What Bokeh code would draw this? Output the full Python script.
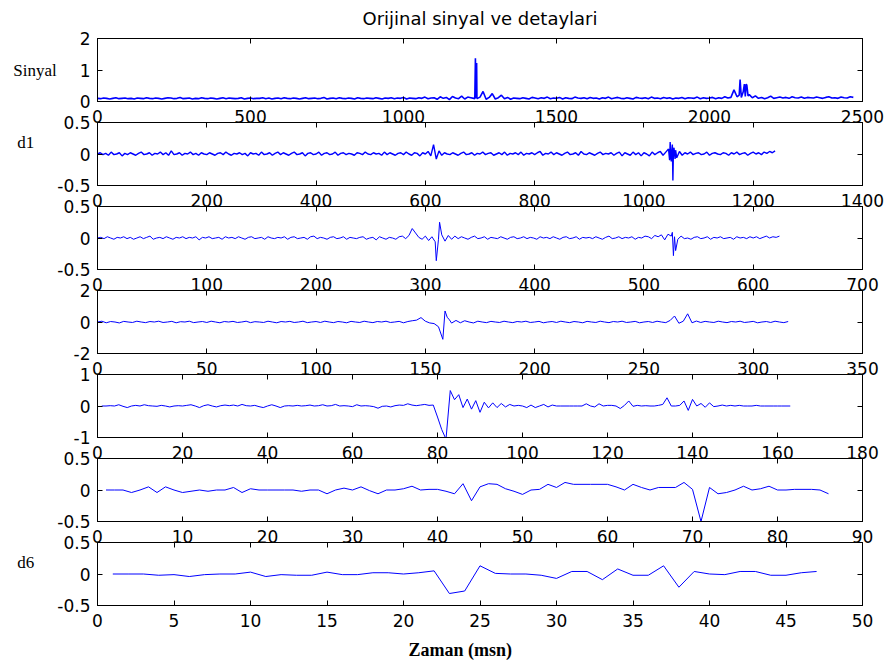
from bokeh.embed import file_html
from bokeh.layouts import column
from bokeh.models import CustomJSTickFormatter, FixedTicker, LinearAxis, Range1d, Title
from bokeh.plotting import figure
from bokeh.resources import INLINE

# ---------------------------------------------------------------- data
# Original signal, sampled every 10 points, plus the sharp spikes in between
sig_step = 10
sig_vals = [
    0.10, 0.09, 0.11, 0.10, 0.08, 0.10, 0.12, 0.09, 0.10, 0.11,
    0.09, 0.10, 0.08, 0.11, 0.10, 0.09, 0.12, 0.10, 0.09, 0.11,
    0.10, 0.08, 0.10, 0.12, 0.11, 0.09, 0.10, 0.13, 0.09, 0.10,
    0.11, 0.08, 0.10, 0.09, 0.12, 0.10, 0.09, 0.11, 0.10, 0.08,
    0.10, 0.12, 0.09, 0.11, 0.10, 0.09, 0.10, 0.12, 0.08, 0.10,
    0.11, 0.09, 0.10, 0.10, 0.12, 0.09, 0.11, 0.08, 0.10, 0.11,
    0.09, 0.12, 0.10, 0.09, 0.11, 0.10, 0.08, 0.10, 0.12, 0.09,
    0.10, 0.11, 0.09, 0.10, 0.13, 0.08, 0.10, 0.11, 0.09, 0.12,
    0.10, 0.09, 0.11, 0.10, 0.08, 0.12, 0.10, 0.09, 0.11, 0.10,
    0.09, 0.12, 0.10, 0.08, 0.11, 0.10, 0.12, 0.09, 0.11, 0.10,
    0.13, 0.08, 0.11, 0.10, 0.09, 0.12, 0.10, 0.14, 0.09, 0.11,
    0.12, 0.07, 0.15, 0.10, 0.13, 0.06, 0.16, 0.11, 0.09, 0.17,
    0.08, 0.14, 0.12, 0.10,
    0.10, 0.14, 0.32, 0.07, 0.13, 0.25,
    0.08, 0.12, 0.20, 0.09, 0.13, 0.07, 0.11, 0.10, 0.09, 0.12,
    0.10, 0.08, 0.13, 0.11, 0.09, 0.12, 0.10, 0.14, 0.09, 0.11,
    0.10, 0.13, 0.08, 0.12, 0.10, 0.09, 0.14, 0.11, 0.10, 0.12,
    0.09, 0.13, 0.10, 0.11, 0.08, 0.12, 0.10, 0.14, 0.09, 0.11,
    0.13, 0.10, 0.09, 0.12, 0.10, 0.08, 0.13, 0.11, 0.10, 0.12,
    0.09, 0.14, 0.10, 0.11, 0.09, 0.13, 0.10, 0.12, 0.08, 0.11,
    0.10, 0.13, 0.09, 0.12, 0.11, 0.10, 0.14, 0.09, 0.12, 0.10,
    0.11, 0.13, 0.09, 0.12, 0.10, 0.15, 0.11, 0.13,
    0.37, 0.15, 0.70, 0.30, 0.55, 0.22,
    0.12, 0.18, 0.10, 0.13, 0.09, 0.12, 0.17, 0.10, 0.12, 0.14,
    0.11, 0.13, 0.10, 0.15, 0.12, 0.11, 0.14, 0.10, 0.13, 0.12,
    0.11, 0.14, 0.12, 0.10, 0.13, 0.15, 0.11, 0.12, 0.10, 0.14,
    0.12, 0.11, 0.15, 0.13,
]
sig_spike_x = [1233, 1235, 1237, 1239, 1242, 2097, 2104, 2114, 2117, 2122, 2126]
sig_spike_y = [0.09, 1.37, 0.10, 1.22, 0.10, 0.20, 0.13, 0.55, 0.16, 0.52, 0.18]

# d1, every 5th coefficient plus the burst around 1050
d1_step = 5
d1_vals = [
    0.00, 0.02, -0.01, 0.01, -0.02, 0.03, -0.01, 0.00, 0.02, -0.03,
    0.01, -0.01, 0.02, 0.00, -0.02, 0.01, 0.03, -0.01, 0.00, 0.02,
    -0.02, 0.01, 0.00, 0.03, -0.01, 0.02, -0.02, 0.05, -0.01, 0.00,
    0.02, -0.02, 0.01, 0.00, 0.03, -0.01, 0.01, -0.02, 0.02, 0.00,
    -0.01, 0.02, 0.00, -0.02, 0.01, 0.02, -0.01, 0.03, 0.00, -0.02,
    0.01, 0.00, 0.02, -0.01, 0.01, -0.03, 0.02, 0.00, 0.01, -0.02,
    0.03, -0.01, 0.00, 0.02, -0.02, 0.01, 0.03, -0.01, 0.02, 0.00,
    -0.02, 0.01, 0.03, -0.01, 0.00, 0.02, -0.03, 0.01, 0.02, -0.01,
    0.00, 0.03, -0.02, 0.01, 0.02, -0.01, 0.00, 0.03, -0.02, 0.01,
    0.02, -0.01, 0.01, 0.00, -0.02, 0.02, 0.01, -0.01, 0.03, 0.00,
    -0.01, 0.02, 0.00, 0.01, -0.02, 0.03, -0.01, 0.02, 0.00, -0.02,
    0.01, 0.02, -0.01, 0.03, 0.00, -0.02, 0.02, 0.01, -0.03, 0.02,
    0.00, 0.04, -0.03, 0.15, -0.08, 0.05, -0.02, 0.02, 0.00, -0.01,
    0.02, 0.00, -0.02, 0.01, 0.03, -0.01, 0.00, 0.02, -0.02, 0.01,
    0.00, 0.03, -0.01, 0.01, 0.02, -0.02, 0.00, 0.02, -0.01, 0.03,
    -0.02, 0.01, 0.00, 0.02, -0.01, 0.03, -0.02, 0.01, 0.00, 0.02,
    -0.01, 0.02, 0.04, -0.02, 0.01, 0.00, 0.03, -0.01, 0.02, 0.00,
    -0.02, 0.01, 0.03, -0.01, 0.00, 0.02, -0.02, 0.04, 0.00, -0.01,
    0.02, 0.00, -0.02, 0.01, 0.03, -0.01, 0.01, 0.00, 0.02, -0.02,
    0.01, 0.03, -0.03, 0.02, 0.00, -0.02, 0.03, -0.01, 0.02, -0.03,
    0.02, 0.00, -0.03, 0.03, -0.01, 0.02, 0.04, -0.02, 0.03, 0.08,
    -0.12, 0.10, -0.06, 0.04, -0.02, 0.02, 0.00, 0.03, -0.01, 0.01,
    0.02, -0.01, 0.00, 0.03, -0.02, 0.01, 0.02, 0.00, -0.01, 0.02,
    0.01, -0.02, 0.02, 0.00, 0.03, -0.01, 0.01, 0.02, -0.02, 0.01,
    0.03, 0.00, 0.02, -0.01, 0.03, 0.01, 0.04, 0.02, 0.05,
]
d1_burst_x = [1047, 1048, 1052, 1053, 1054, 1057, 1058]
d1_burst_y = [-0.10, 0.19, 0.15, -0.42, 0.05, -0.08, 0.06]

# d2, every 3rd coefficient plus the spikes near 310 and 527
d2_step = 3
d2_vals = [
    0.00, 0.01, -0.01, 0.02, 0.00, -0.02, 0.01, 0.00, 0.02, -0.01,
    0.01, -0.02, 0.00, 0.02, -0.01, 0.01, 0.03, -0.02, 0.00, 0.01,
    -0.01, 0.02, 0.00, -0.02, 0.01, 0.00, 0.02, -0.01, 0.01, 0.00,
    0.02, -0.03, 0.01, 0.00, 0.02, -0.01, 0.00, 0.01, -0.02, 0.02,
    0.00, 0.01, -0.01, 0.02, 0.00, -0.02, 0.01, 0.02, -0.01, 0.00,
    0.01, -0.02, 0.02, 0.00, -0.01, 0.01, 0.00, 0.02, -0.02, 0.01,
    0.02, -0.01, 0.00, 0.01, -0.02, 0.02, 0.03, -0.01, 0.01, 0.00,
    -0.02, 0.01, 0.02, -0.01, 0.00, 0.02, -0.02, 0.01, 0.00, -0.01,
    0.01, 0.02, -0.02, 0.00, 0.01, -0.03, 0.02, 0.00, -0.02, 0.01,
    0.00, -0.02, 0.02, 0.03, -0.01, 0.04, 0.15, 0.08, 0.01, -0.02,
    0.03, -0.04, 0.02, -0.06, -0.02, 0.05, -0.05, 0.04, -0.02, 0.03,
    -0.01, 0.02, 0.00, -0.02, 0.01, 0.03, -0.01, 0.00, 0.02, -0.02,
    0.01, 0.00, -0.01, 0.02, 0.00, -0.02, 0.01, 0.02, -0.01, 0.00,
    0.02, -0.01, 0.01, 0.00, -0.02, 0.02, 0.00, 0.01, -0.01, 0.02,
    0.00, -0.02, 0.01, 0.02, -0.01, 0.00, 0.02, -0.02, 0.01, 0.00,
    0.01, -0.01, 0.02, 0.00, -0.02, 0.01, 0.03, -0.01, 0.00, 0.02,
    -0.01, 0.01, 0.00, 0.02, -0.02, 0.01, 0.00, 0.03, 0.02, -0.01,
    0.04, 0.02, 0.05, -0.03, 0.06, 0.03, 0.02, -0.02, 0.03, -0.01,
    0.00, -0.02, 0.01, 0.02, -0.01, 0.00, 0.02, -0.02, 0.01, 0.00,
    0.02, -0.01, 0.00, 0.01, -0.02, 0.02, 0.00, 0.01, -0.01, 0.02,
    0.00, 0.02, -0.01, 0.01, 0.03, 0.00, 0.02, 0.01, 0.03,
]
d2_spike_x = [310, 313, 526, 527, 529]
d2_spike_y = [-0.36, 0.25, 0.09, -0.28, -0.20]

# d3, every 2nd coefficient plus the peak at 159
d3_step = 2
d3_vals = [
    0.00, 0.05, -0.05, 0.03, 0.00, -0.06, 0.04, 0.00, -0.03, 0.05,
    0.00, -0.04, 0.03, 0.00, 0.05, -0.03, 0.00, 0.04, -0.05, 0.02,
    0.00, 0.05, -0.04, 0.00, 0.03, -0.03, 0.05, 0.00, -0.05, 0.03,
    0.00, 0.04, -0.03, 0.00, 0.05, -0.04, 0.02, 0.00, -0.03, 0.05,
    0.00, -0.05, 0.03, 0.00, 0.04, -0.03, 0.00, 0.05, -0.04, 0.00,
    0.03, -0.03, 0.05, 0.00, -0.04, 0.03, 0.00, -0.05, 0.04, 0.00,
    -0.03, 0.05, 0.00, -0.04, 0.03, 0.00, 0.05, -0.03, 0.00, 0.04,
    -0.05, 0.03, 0.08, 0.12, 0.28, 0.05, -0.06, -0.10, -0.30, -1.10,
    0.30, -0.07, 0.10, -0.05, 0.08, 0.00, -0.06, 0.05, 0.00, -0.04,
    0.04, 0.00, -0.03, 0.05, 0.00, -0.04, 0.03, 0.00, 0.05, -0.03,
    0.00, 0.04, -0.05, 0.00, 0.03, -0.03, 0.05, 0.00, -0.04, 0.03,
    0.00, -0.05, 0.04, 0.00, -0.03, 0.05, 0.00, -0.04, 0.03, 0.00,
    0.05, -0.03, 0.00, 0.04, -0.05, 0.00, 0.03, -0.03, 0.05, 0.00,
    -0.04, 0.10, 0.38, -0.08, 0.05, 0.52, -0.05, 0.06, -0.03, 0.04,
    0.00, -0.03, 0.05, 0.00, -0.04, 0.03, 0.00, 0.05, -0.03, 0.00,
    0.04, -0.05, 0.00, 0.03, -0.03, 0.05, 0.00, -0.04, 0.03,
]
d3_peak_x = [159, 161]
d3_peak_y = [0.70, 0.14]

# d4 .. d6, one value per coefficient (index starts at 1)
d4_vals = [
    0.00, 0.00, 0.01, 0.00, 0.04, -0.01, -0.05, 0.00, 0.02, 0.00,
    0.04, 0.01, 0.00, -0.01, 0.02, 0.00, -0.03, 0.00, 0.01, 0.00,
    0.02, 0.04, 0.00, -0.05, 0.01, 0.04, 0.00, -0.03, 0.01, 0.03,
    0.01, 0.03, 0.00, 0.05, 0.01, 0.00, 0.02, -0.02, -0.05, 0.00,
    0.04, 0.00, -0.05, 0.00, 0.01, 0.00, 0.02, 0.00, 0.01, 0.03,
    0.00, 0.01, 0.04, 0.00, 0.01, 0.05, 0.00, 0.01, 0.00, -0.02,
    0.04, 0.00, 0.01, 0.00, -0.02, -0.07, -0.01, 0.00, -0.03, 0.01,
    0.03, 0.02, 0.07, 0.03, 0.01, 0.03, 0.05, 0.02, 0.03, -0.35,
    -0.75, -1.05, 0.49, 0.20, 0.36, -0.05, 0.22, -0.10, 0.17, -0.20,
    0.12, -0.06, 0.10, -0.05, 0.08, -0.03, 0.05, 0.00, 0.02, 0.00,
    -0.05, 0.03, -0.05, 0.00, 0.05, -0.03, 0.03, 0.00, 0.00, 0.00,
    0.00, 0.00, 0.00, 0.00, 0.07, 0.00, -0.03, 0.07, 0.00, 0.02,
    0.02, 0.00, -0.08, 0.02, 0.16, -0.01, 0.02, 0.00, 0.01, 0.00,
    0.00, 0.02, 0.05, 0.26, 0.00, 0.00, 0.02, 0.16, -0.14, 0.21,
    0.00, 0.08, -0.04, 0.10, -0.02, 0.00, 0.03, 0.00, 0.02, 0.00,
    0.02, 0.00, 0.00, 0.00, 0.02, 0.00, 0.00, 0.00, 0.00, 0.00,
    0.00, 0.00, 0.00,
]
d5_vals = [
    0.00, 0.00, 0.00, -0.04, 0.00, 0.05, -0.04, 0.05, 0.00, -0.04,
    -0.02, 0.00, -0.02, 0.00, 0.00, 0.04, -0.04, 0.02, 0.00, 0.00,
    0.00, 0.00, 0.00, -0.02, 0.00, 0.00, -0.06, 0.00, 0.03, 0.00,
    0.05, -0.01, -0.06, 0.00, 0.00, 0.02, 0.06, 0.00, 0.01, 0.01,
    -0.02, -0.06, 0.10, -0.17, 0.05, 0.10, 0.09, 0.02, -0.02, -0.07,
    0.00, 0.01, 0.09, 0.04, 0.12, 0.09, 0.09, 0.09, 0.09, 0.09,
    0.05, 0.00, 0.09, 0.04, 0.00, 0.04, 0.04, 0.04, 0.12, 0.01,
    -0.50, 0.04, -0.06, -0.04, 0.00, 0.06, 0.00, 0.02, 0.06, 0.00,
    0.00, 0.01, 0.01, 0.01, 0.00, -0.06,
]
d6_vals = [
    0.00, 0.00, 0.00, -0.02, -0.01, -0.04, -0.01, 0.00, 0.00, 0.03,
    -0.04, -0.01, -0.02, -0.02, 0.03, -0.01, -0.01, 0.02, 0.02, 0.00,
    0.02, 0.05, -0.31, -0.27, 0.13, 0.01, 0.00, 0.00, -0.02, -0.07,
    0.04, 0.04, -0.09, 0.08, -0.02, -0.02, 0.13, -0.21, 0.04, 0.00,
    -0.01, 0.04, 0.04, -0.02, -0.02, 0.02, 0.04,
]

# axis limits and ticks of the seven panels
sig_xticks = [0, 500, 1000, 1500, 2000, 2500]
d1_xticks = [0, 200, 400, 600, 800, 1000, 1200, 1400]
d2_xticks = [0, 100, 200, 300, 400, 500, 600, 700]
d3_xticks = [0, 50, 100, 150, 200, 250, 300, 350]
d4_xticks = [0, 20, 40, 60, 80, 100, 120, 140, 160, 180]
d5_xticks = [0, 10, 20, 30, 40, 50, 60, 70, 80, 90]
d6_xticks = [0, 5, 10, 15, 20, 25, 30, 35, 40, 45, 50]
sig_yticks = [0, 1, 2]
half_yticks = [-0.5, 0, 0.5]
d3_yticks = [-2, 0, 2]
d4_yticks = [-1, 0, 1]

title_text = "Orijinal sinyal ve detaylari"
xlabel_text = "Zaman (msn)"

# ---------------------------------------------------------------- helpers
BLUE = "#0000ff"
SANS = "DejaVu Sans"
SERIF = "Liberation Serif"
FRAME_H = 63
GAP = 21          # free space between two stacked frames
PAD_TOP = 12      # room for the top y tick label
PAD_BOTTOM = 30   # room for the x tick labels
TITLE_PAD = 42    # room for the title above the first frame
TITLE_LIFT = 4    # the first canvas starts this far above the page top


def stepped(step, vals, extra_x=(), extra_y=(), start=0):
    xs = [start + i * step for i in range(len(vals))] + list(extra_x)
    ys = list(vals) + list(extra_y)
    order = sorted(range(len(xs)), key=lambda k: xs[k])
    return [xs[k] for k in order], [ys[k] for k in order]


def make_panel(xs, ys, x_end, y_lim, x_ticks, y_ticks, top=PAD_TOP, bottom=PAD_BOTTOM,
               lw=1.0, ylabel=None):
    p = figure(width=887, height=top + FRAME_H + bottom,
               x_range=Range1d(0, x_end), y_range=Range1d(*y_lim),
               x_axis_location=None, y_axis_location=None,
               output_backend="svg", toolbar_location=None,
               min_border_left=97, min_border_right=25,
               min_border_top=top, min_border_bottom=bottom)
    p.grid.visible = False
    p.background_fill_color = None
    p.border_fill_color = None
    p.outline_line_color = "black"
    p.outline_line_width = 1

    for loc, ticks, labelled in (("below", x_ticks, True), ("above", x_ticks, False),
                                 ("left", y_ticks, True), ("right", y_ticks, False)):
        ax = LinearAxis(ticker=FixedTicker(ticks=ticks, minor_ticks=[]))
        ax.major_tick_in = 5
        ax.major_tick_out = 0
        ax.minor_tick_line_color = None
        ax.axis_line_color = "black"
        ax.major_tick_line_color = "black"
        if labelled:
            ax.major_label_text_font = SANS
            ax.major_label_text_font_size = "17px"
            ax.major_label_text_color = "black"
            ax.major_label_standoff = 8 if loc == "below" else 7
            if loc == "left":
                ax.formatter = CustomJSTickFormatter(code="return String(tick)")
                if ylabel is not None:
                    ax.axis_label = ylabel
                    ax.axis_label_orientation = "horizontal"
                    ax.axis_label_standoff = 20
                    ax.axis_label_text_font = SERIF
                    ax.axis_label_text_font_size = "17px"
                    ax.axis_label_text_font_style = "normal"
                    ax.axis_label_text_color = "black"
        else:
            ax.formatter = CustomJSTickFormatter(code="return ''")
            ax.major_label_text_font_size = "0px"
            ax.major_label_standoff = 0
        p.add_layout(ax, loc)

    p.line(xs, ys, line_color=BLUE, line_width=lw)
    return p


# ---------------------------------------------------------------- panels
sx, sy = stepped(sig_step, sig_vals, sig_spike_x, sig_spike_y)
p1 = make_panel(sx, sy, 2500, (0, 2), sig_xticks, sig_yticks, top=TITLE_PAD, lw=1.6,
                ylabel="Sinyal")
p1.title.text = title_text
p1.title.align = "center"
p1.title.standoff = 19
p1.title.text_font = SANS
p1.title.text_font_size = "18px"
p1.title.text_font_style = "normal"
p1.title.text_color = "black"
p1.margin = (-TITLE_LIFT, 0, 0, 0)

x1, y1 = stepped(d1_step, d1_vals, d1_burst_x, d1_burst_y)
p2 = make_panel(x1, y1, 1400, (-0.5, 0.5), d1_xticks, half_yticks, lw=1.4, ylabel="d1\n")

x2, y2 = stepped(d2_step, d2_vals, d2_spike_x, d2_spike_y)
p3 = make_panel(x2, y2, 700, (-0.5, 0.5), d2_xticks, half_yticks)

x3, y3 = stepped(d3_step, d3_vals, d3_peak_x, d3_peak_y)
p4 = make_panel(x3, y3, 350, (-2, 2), d3_xticks, d3_yticks)

x4, y4 = stepped(1, d4_vals, start=1)
p5 = make_panel(x4, y4, 180, (-1, 1), d4_xticks, d4_yticks)

x5, y5 = stepped(1, d5_vals, start=1)
p6 = make_panel(x5, y5, 90, (-0.5, 0.5), d5_xticks, half_yticks)

x6, y6 = stepped(1, d6_vals, start=1)
p7 = make_panel(x6, y6, 50, (-0.5, 0.5), d6_xticks, half_yticks, bottom=62, ylabel="d6\n")
p7.add_layout(Title(text=xlabel_text, align="left", offset=311, standoff=16,
                    text_font=SERIF, text_font_size="18px", text_font_style="bold",
                    text_color="black"), "below")

panels = [p1, p2, p3, p4, p5, p6, p7]
# stack the panels so that each frame starts GAP px below the previous one
for p in panels[1:]:
    p.margin = (GAP - PAD_TOP - PAD_BOTTOM, 0, 0, 0)

layout = column(*panels, spacing=0)
open("out.html", "w").write(file_html(layout, INLINE))
